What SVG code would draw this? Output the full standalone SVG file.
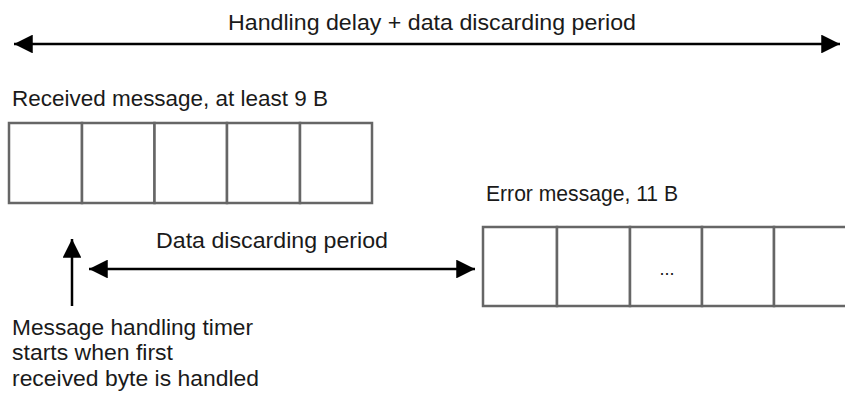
<svg xmlns="http://www.w3.org/2000/svg" width="845" height="398" viewBox="0 0 845 398">
<style>
text{font-family:"Liberation Sans",Arial,sans-serif;font-size:22.5px;fill:#1a1a1a}
.cell{fill:#fff;stroke:#666;stroke-width:2.5}
.conn{stroke:#000;stroke-width:2.5;fill:none}
</style>
<defs>
<marker id="ah" viewBox="0 0 10 10" refX="10" refY="5" markerWidth="7.5" markerHeight="7.5" markerUnits="strokeWidth" orient="auto-start-reverse">
<path d="M0,0 L10,5 L0,10 z" fill="#000"/>
</marker>
</defs>
<rect width="845" height="398" fill="#fff"/>
<g id="title">
<text x="432" y="30" text-anchor="middle" textLength="408" lengthAdjust="spacingAndGlyphs">Handling delay + data discarding period</text>
</g>
<g id="received">
<text x="12" y="106" textLength="316" lengthAdjust="spacingAndGlyphs">Received message, at least 9 B</text>
<rect class="cell" x="9" y="123" width="73" height="80"/>
<rect class="cell" x="82" y="123" width="72.5" height="80"/>
<rect class="cell" x="154.5" y="123" width="72.5" height="80"/>
<rect class="cell" x="227" y="123" width="73" height="80"/>
<rect class="cell" x="300" y="123" width="72" height="80"/>
</g>
<g id="error">
<text x="486" y="201" textLength="192" lengthAdjust="spacingAndGlyphs">Error message, 11 B</text>
<rect class="cell" x="483" y="227" width="74" height="79"/>
<rect class="cell" x="557" y="227" width="73" height="79"/>
<rect class="cell" x="630" y="227" width="72" height="79"/>
<rect class="cell" x="702" y="227" width="72" height="79"/>
<rect class="cell" x="774" y="227" width="80" height="79"/>
<text x="667" y="275" text-anchor="middle" style="font-size:18px">...</text>
</g>
<g id="timer-label">
<text x="12" y="335" textLength="241" lengthAdjust="spacingAndGlyphs">Message handling timer</text>
<text x="12" y="360" textLength="161" lengthAdjust="spacingAndGlyphs">starts when first</text>
<text x="12" y="386" textLength="247" lengthAdjust="spacingAndGlyphs">received byte is handled</text>
</g>
<g id="discard-label">
<text x="156" y="248" textLength="232" lengthAdjust="spacingAndGlyphs">Data discarding period</text>
</g>
<g id="connectors">
<line class="conn" x1="14" y1="44" x2="840" y2="44" marker-start="url(#ah)" marker-end="url(#ah)"/>
<line class="conn" x1="89" y1="269" x2="475" y2="269" marker-start="url(#ah)" marker-end="url(#ah)"/>
<line class="conn" x1="72" y1="306" x2="72" y2="239" marker-end="url(#ah)"/>
</g>
</svg>
